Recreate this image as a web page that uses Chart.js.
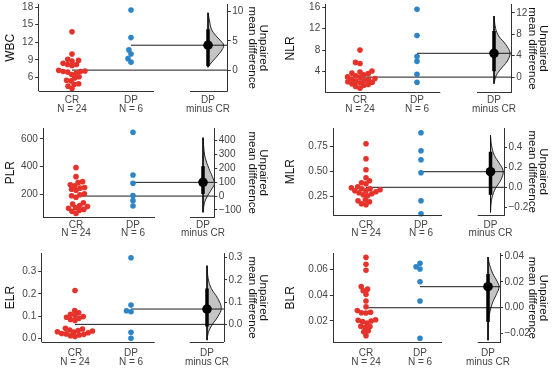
<!DOCTYPE html>
<html>
<head>
<meta charset="utf-8">
<script src="https://cdn.jsdelivr.net/npm/chart.js@4.4.1/dist/chart.umd.min.js"></script>
<style>
html, body { margin: 0; padding: 0; background: #fff; }
#wrap { position: relative; width: 560px; height: 368px; overflow: hidden; }
canvas { position: absolute; }
</style>
</head>
<body>
<div id="wrap"></div>
<script>
// ---- data ----
var markers = ['WBC', 'NLR', 'PLR', 'MLR', 'ELR', 'BLR'];
var groupLabels = [['CR', 'N = 24'], ['DP', 'N = 6'], ['DP', 'minus CR']];
var diffTitle = ['Unpaired', 'mean difference'];

var wbcCR = [13.8, 10.0, 9.1, 8.9, 8.8, 8.4, 8.2, 8.2, 8.0, 7.2, 7.1, 7.0, 7.0, 6.9, 6.7, 6.5, 6.1, 5.9, 5.5, 5.4, 4.9, 4.8, 4.5, 4.1];
var wbcDP = [17.5, 12.8, 10.7, 10.0, 9.2, 8.6];
var nlrCR = [8.0, 5.7, 5.5, 4.1, 3.9, 3.7, 3.6, 3.4, 3.2, 3.0, 2.9, 2.7, 2.6, 2.5, 2.3, 2.2, 2.1, 2.0, 1.9, 1.7, 1.6, 1.4, 1.2, 0.9];
var nlrDP = [15.6, 10.7, 6.8, 5.9, 3.5, 2.0];
var plrCR = [393, 328, 292, 285, 270, 262, 250, 245, 238, 230, 205, 198, 190, 180, 140, 130, 120, 112, 105, 100, 92, 85, 78, 62];
var plrDP = [648, 340, 280, 191, 155, 116];
var mlrCR = [0.78, 0.63, 0.52, 0.44, 0.41, 0.39, 0.38, 0.35, 0.34, 0.33, 0.33, 0.32, 0.31, 0.31, 0.30, 0.29, 0.28, 0.27, 0.26, 0.22, 0.21, 0.20, 0.18, 0.17];
var mlrDP = [0.89, 0.71, 0.62, 0.49, 0.21, 0.08];
var elrCR = [0.215, 0.125, 0.115, 0.108, 0.103, 0.098, 0.095, 0.09, 0.085, 0.08, 0.045, 0.042, 0.038, 0.035, 0.033, 0.03, 0.028, 0.025, 0.022, 0.02, 0.018, 0.015, 0.012, 0.008];
var elrDP = [0.363, 0.15, 0.124, 0.12, 0.027, 0.0];
var blrCR = [0.069, 0.0636, 0.059, 0.0465, 0.0445, 0.0433, 0.0405, 0.0354, 0.031, 0.028, 0.0267, 0.0264, 0.0262, 0.021, 0.0205, 0.020, 0.0195, 0.0185, 0.016, 0.0158, 0.0152, 0.0125, 0.0118, 0.0087];
var blrDP = [0.0644, 0.0618, 0.060, 0.0502, 0.0354, 0.0067];

var meanCR = [7.24, 2.96, 188, 0.344, 0.063, 0.0302];
var meanDP = [11.5, 7.4, 287, 0.50, 0.132, 0.0464];
var meanDiff = [4.26, 4.44, 99, 0.156, 0.069, 0.0162];
var ciLow = [0.7, 1.1, 15, -0.075, -0.01, -0.011];
var ciHigh = [7.0, 8.6, 215, 0.355, 0.162, 0.026];

// bootstrap distribution outline: diff value, relative width
var wbcVioY = [9.8, 8.4, 7.0, 5.9, 5.1, 4.3, 3.5, 2.6, 1.8, 1.0, 0.5];
var wbcVioW = [0, 0.1, 0.22, 0.5, 0.77, 1, 0.9, 0.65, 0.39, 0.13, 0];
var nlrVioY = [11.4, 9.1, 7.6, 6.1, 4.5, 3.0, 1.5, 0.3, -1.2];
var nlrVioW = [0, 0.1, 0.31, 0.73, 1, 0.83, 0.42, 0.14, 0];
var plrVioY = [421, 320, 273, 200, 140, 92, 44, -5, -52, -117];
var plrVioW = [0, 0.1, 0.2, 0.5, 0.8, 1, 0.7, 0.35, 0.12, 0];
var mlrVioY = [0.52, 0.42, 0.32, 0.24, 0.16, 0.07, -0.01, -0.09, -0.17, -0.25];
var mlrVioW = [0, 0.08, 0.3, 0.7, 1, 0.8, 0.4, 0.15, 0.04, 0];
var elrVioY = [0.264, 0.207, 0.162, 0.117, 0.072, 0.034, -0.003, -0.036, -0.071];
var elrVioW = [0, 0.08, 0.3, 0.75, 1, 0.75, 0.35, 0.1, 0];
var blrVioY = [0.039, 0.033, 0.026, 0.020, 0.016, 0.011, 0.0046, -0.003, -0.011, -0.019, -0.025];
var blrVioW = [0, 0.15, 0.45, 0.85, 1, 0.8, 0.45, 0.18, 0.05, 0.01, 0];

// axis ranges and tick labels
var yMin = [3.72, 0.18, 37, 0.067, -0.015, 0.0036];
var yMax = [18.41, 16.45, 677, 0.934, 0.382, 0.0721];
var rawTicks = [[6, 9, 12, 15, 18], [4, 8, 12, 16], [200, 400, 600], [0.25, 0.5, 0.75], [0, 0.1, 0.2, 0.3], [0.02, 0.04, 0.06]];
var diffTicks = [[0, 5, 10], [0, 4, 8, 12], [-100, 0, 100, 200, 300, 400], [-0.2, 0, 0.2, 0.4], [0, 0.1, 0.2, 0.3], [-0.02, 0, 0.02, 0.04]];
var rawDec = [0, 0, 0, 2, 1, 2];
var diffDec = [0, 0, 0, 1, 1, 2];

var crVals = [wbcCR, nlrCR, plrCR, mlrCR, elrCR, blrCR];
var dpVals = [wbcDP, nlrDP, plrDP, mlrDP, elrDP, blrDP];
var vioY = [wbcVioY, nlrVioY, plrVioY, mlrVioY, elrVioY, blrVioY];
var vioW = [wbcVioW, nlrVioW, plrVioW, mlrVioW, elrVioW, blrVioW];

// ---- page layout (pixels) ----
var layout = [
  {px: 0,   py: 0,   h: 122, l: 38.7,  r: 227.7, t: 1.5,   b: 90.7,  cr: 72,  dp: 131, dd: 208,   rawEnd: 154,   dStart: 190,   vw: 15.7, lab: 100.5},
  {px: 280, py: 0,   h: 122, l: 325.7, r: 511.7, t: 2.5,   b: 92,    cr: 360, dp: 417, dd: 494,   rawEnd: 440.3, dStart: 477,   vw: 16,   lab: 100.5},
  {px: 0,   py: 122, h: 122, l: 43.3,  r: 214.3, t: 128.3, b: 217,   cr: 76,  dp: 133, dd: 203,   rawEnd: 155,   dStart: 190,   vw: 11.7, lab: 225},
  {px: 280, py: 122, h: 122, l: 333.3, r: 504,   t: 128.3, b: 215,   cr: 366, dp: 421, dd: 490.5, rawEnd: 442,   dStart: 477.7, vw: 12.7, lab: 225},
  {px: 0,   py: 244, h: 124, l: 41.7,  r: 224,   t: 253.5, b: 341.7, cr: 75,  dp: 131, dd: 207,   rawEnd: 154.7, dStart: 189.7, vw: 14.3, lab: 353.5},
  {px: 280, py: 244, h: 124, l: 333.3, r: 500,   t: 253.3, b: 342.3, cr: 366, dp: 420, dd: 488,   rawEnd: 442,   dStart: 477.7, vw: 11,   lab: 353.5}
];

var RED = '#e5332b';
var BLUE = '#2d84c6';
var AXIS = '#333';
var DOT_R = 2.8;
var SWARM_GAP = 4.6;

Chart.defaults.font.family = "'Liberation Sans', Arial, sans-serif";

function fmt(v, d) {
  var s = Math.abs(v) < 1e-12 ? (0).toFixed(d) : v.toFixed(d);
  return s.replace('-', '\u2212');
}

// place points of one group so they do not overlap (pixel space)
function swarm(py, d) {
  var idx = py.map(function (p, k) { return k; }).sort(function (a, b) { return py[b] - py[a]; });
  var placed = [], off = [];
  idx.forEach(function (k) {
    var y = py[k];
    var nb = placed.filter(function (p) { return Math.abs(p.y - y) < d; });
    var cands = [0];
    nb.forEach(function (p) {
      var dx = Math.sqrt(d * d - (p.y - y) * (p.y - y));
      cands.push(p.x - dx, p.x + dx);
    });
    cands.sort(function (a, b) { return Math.abs(a) - Math.abs(b); });
    var x = cands.find(function (c) {
      return nb.every(function (p) { return (p.x - c) * (p.x - c) + (p.y - y) * (p.y - y) >= d * d - 0.01; });
    });
    placed.push({x: x, y: y});
    off[k] = x;
  });
  return off;
}

var spines = {
  id: 'spines',
  afterDraw: function (chart, args, opts) {
    var ctx = chart.ctx, a = chart.chartArea, x = chart.scales.x;
    var y = Math.round(a.bottom) + 0.5;
    ctx.save();
    ctx.strokeStyle = AXIS;
    ctx.lineWidth = 1;
    ctx.beginPath();
    ctx.moveTo(a.left, y); ctx.lineTo(x.getPixelForValue(opts.rawEnd), y);
    ctx.moveTo(x.getPixelForValue(opts.dStart), y); ctx.lineTo(a.right, y);
    ctx.stroke();
    ctx.restore();
  }
};

function drawPanel(i) {
  var L = layout[i];
  var cv = document.createElement('canvas');
  cv.width = 280; cv.height = L.h;
  cv.style.left = L.px + 'px'; cv.style.top = L.py + 'px';
  document.getElementById('wrap').appendChild(cv);

  var ppu = L.dp - L.cr;
  var xD = (L.dd - L.cr) / ppu;
  var xMin = (L.l - L.cr) / ppu;
  var xMax = (L.r - L.cr) / ppu;
  var wScale = L.vw / ppu;

  var crPts = crVals[i].map(function (v) { return {x: 0, y: v}; });
  var dpPts = dpVals[i].map(function (v) { return {x: 1, y: v}; });
  var vY = vioY[i];
  var violin = vY.map(function (v, k) { return {x: xD + vioW[i][k] * wScale, y: v}; });

  var chart = new Chart(cv, {
    type: 'scatter',
    data: {
      datasets: [
        {data: [{x: xD, y: meanDiff[i]}], yAxisID: 'y2', pointRadius: 4.8, backgroundColor: '#000', borderWidth: 0, clip: false},
        {data: crPts, yAxisID: 'y', pointRadius: DOT_R, backgroundColor: RED, borderWidth: 0, clip: false},
        {data: dpPts, yAxisID: 'y', pointRadius: DOT_R, backgroundColor: BLUE, borderWidth: 0, clip: false},
        {type: 'line', data: [{x: xD, y: ciLow[i]}, {x: xD, y: ciHigh[i]}], yAxisID: 'y2',
         borderColor: '#000', borderWidth: 3.5, pointRadius: 0},
        {type: 'line', data: [{x: 0, y: meanCR[i]}, {x: xMax, y: meanCR[i]}], yAxisID: 'y',
         borderColor: '#1a1a1a', borderWidth: 1, pointRadius: 0},
        {type: 'line', data: [{x: 1, y: meanDP[i]}, {x: xMax, y: meanDP[i]}], yAxisID: 'y',
         borderColor: '#1a1a1a', borderWidth: 1, pointRadius: 0},
        {type: 'line', data: [{x: xD, y: vY[0]}, {x: xD, y: vY[vY.length - 1]}], yAxisID: 'y2',
         borderColor: '#111', borderWidth: 1, pointRadius: 0},
        {type: 'line', data: violin, yAxisID: 'y2', fill: 'shape', backgroundColor: '#c4c4c4',
         borderColor: '#111', borderWidth: 0.9, tension: 0.4, pointRadius: 0}
      ]
    },
    options: {
      responsive: false,
      animation: false,
      events: [],
      layout: {padding: {top: L.t - L.py, left: 0, right: 0, bottom: 0}},
      plugins: {legend: {display: false}, tooltip: {enabled: false},
                spines: {rawEnd: (L.rawEnd - L.cr) / ppu, dStart: (L.dStart - L.cr) / ppu}},
      scales: {
        x: {
          type: 'linear', min: xMin, max: xMax,
          grid: {display: false, drawTicks: false}, border: {display: false},
          afterBuildTicks: function (s) { s.ticks = [0, 1, xD].map(function (v) { return {value: v}; }); },
          ticks: {callback: function (v, k) { return groupLabels[k]; }, color: '#444',
                  font: {size: 10, lineHeight: 0.85}, padding: L.lab - L.b - 4.25,
                  autoSkip: false, maxRotation: 0, minRotation: 0},
          afterFit: function (s) { s.height = L.py + L.h - L.b; s.paddingLeft = 0; s.paddingRight = 0; }
        },
        y: {
          position: 'left', min: yMin[i], max: yMax[i],
          grid: {display: true, drawOnChartArea: false, drawTicks: true, tickLength: 3.5, color: AXIS},
          border: {display: true, color: AXIS, width: 1},
          afterBuildTicks: function (s) { s.ticks = rawTicks[i].map(function (v) { return {value: v}; }); },
          ticks: {callback: function (v) { return fmt(v, rawDec[i]); }, color: '#444', font: {size: 10}, padding: 2},
          title: {display: true, text: markers[i], color: '#111', font: {size: 12}, padding: {top: 3.8, bottom: 0}},
          afterFit: function (s) { s.width = L.l - L.px; s.paddingTop = 0; s.paddingBottom = 0; }
        },
        y2: {
          position: 'right', min: yMin[i] - meanCR[i], max: yMax[i] - meanCR[i],
          grid: {display: true, drawOnChartArea: false, drawTicks: true, tickLength: 3, color: AXIS},
          border: {display: true, color: AXIS, width: 1},
          afterBuildTicks: function (s) { s.ticks = diffTicks[i].map(function (v) { return {value: v}; }); },
          ticks: {callback: function (v) { return fmt(v, diffDec[i]); }, color: '#444', font: {size: 10}, padding: 1.5},
          title: {display: true, text: diffTitle, color: '#111', font: {size: 11.5, lineHeight: 1.0}, padding: {top: 11, bottom: 0}},
          afterFit: function (s) { s.width = L.px + 280 - L.r; s.paddingTop = 0; s.paddingBottom = 0; }
        }
      }
    },
    plugins: [spines]
  });

  // swarm the raw dots around their group position
  var ys = chart.scales.y, xs = chart.scales.x;
  var ppx = xs.getPixelForValue(1) - xs.getPixelForValue(0);
  [[1, 0], [2, 1]].forEach(function (g) {
    var ds = chart.data.datasets[g[0]];
    var py = ds.data.map(function (p) { return ys.getPixelForValue(p.y); });
    var off = swarm(py, SWARM_GAP);
    ds.data.forEach(function (p, k) { p.x = g[1] + off[k] / ppx; });
  });
  chart.update('none');
}

for (var i = 0; i < 6; i++) drawPanel(i);
</script>
</body>
</html>
